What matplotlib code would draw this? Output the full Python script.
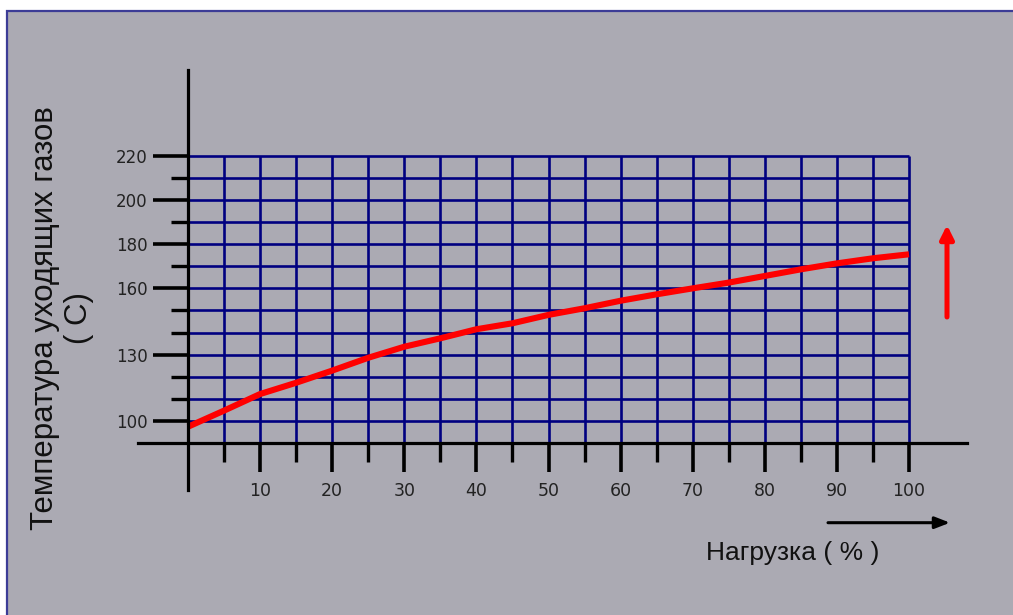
import numpy as np
import matplotlib.pyplot as plt
from matplotlib.patches import Rectangle

# load (%) and flue gas temperature
load = [0, 5, 10, 15, 20, 25, 30, 35, 40, 45, 50, 55, 60, 65, 70, 75, 80, 85, 90, 95, 100]
temp = [97.4, 104.7, 112.2, 117.3, 122.8, 128.6, 133.6, 137.4, 141.5, 144.2, 148.0,
        151.0, 154.4, 157.3, 160.0, 162.6, 165.6, 168.6, 171.3, 173.6, 175.4]

x_major = [10, 20, 30, 40, 50, 60, 70, 80, 90, 100]
x_minor = [5, 15, 25, 35, 45, 55, 65, 75, 85, 95]
y_major = [100, 130, 160, 180, 200, 220]
y_minor = [110, 120, 140, 150, 170, 190, 210]
grid_x = list(range(5, 105, 5))
grid_y = list(range(100, 230, 10))

W, H = 1013, 615
BG = "#abaab3"
NAVY = "#000080"

fig = plt.figure(figsize=(W / 100, H / 100), dpi=100, facecolor="white")

# grey panel with a thin blue frame (kept behind the axes)
fig.patches.append(Rectangle((7 / W, -0.01), 1.02 - 7 / W, 1 - 11 / H + 0.01,
                             transform=fig.transFigure, facecolor=BG,
                             edgecolor="#3c3c96", linewidth=1.6, zorder=-10))

ax = fig.add_axes([188 / W, 1 - 421 / H, (909 - 188) / W, (421 - 155.7) / H])
ax.set_facecolor("none")
ax.set_xlim(0, 100)
ax.set_ylim(100, 220)

# grid
ax.vlines(grid_x, 90, 220, colors=NAVY, linewidth=1.9, clip_on=False, zorder=1)
ax.hlines(grid_y, 0, 100, colors=NAVY, linewidth=1.9, clip_on=False, zorder=1)

# curve
ax.plot(load, temp, color="#ff0000", linewidth=4.4, solid_capstyle="butt",
        solid_joinstyle="round", clip_on=False, zorder=4)

# axes as crossing lines
for s in ["top", "right"]:
    ax.spines[s].set_visible(False)
ax.spines["left"].set_position(("data", 0))
ax.spines["left"].set_bounds(68.8, 258.7)
ax.spines["bottom"].set_position(("data", 90))
ax.spines["bottom"].set_bounds(-6.9, 108)
for s in ["left", "bottom"]:
    ax.spines[s].set_linewidth(2.3)
    ax.spines[s].set_color("black")
    ax.spines[s].set_zorder(5)

ax.set_xticks(x_major)
ax.set_xticks(x_minor, minor=True)
ax.set_yticks(y_major)
ax.set_yticks(y_minor, minor=True)
ax.set_xticklabels([str(v) for v in x_major], fontsize=12.5, color="#222222",
                   family="DejaVu Sans")
ax.set_yticklabels([str(v) for v in y_major], fontsize=12, color="#222222",
                   family="DejaVu Sans")
ax.tick_params(axis="x", which="major", direction="out", length=21, width=2.6,
               pad=7, color="black")
ax.tick_params(axis="x", which="minor", direction="out", length=14, width=2.4,
               color="black")
ax.tick_params(axis="y", which="major", direction="out", length=25, width=2.6,
               pad=4, color="black")
ax.tick_params(axis="y", which="minor", direction="out", length=12, width=2.4,
               color="black")

# labels
fig.text(62 / W, 1 - 318 / H, "Температура уходящих газов\n( С)", rotation=90,
         ha="center", va="center", multialignment="center", fontsize=22.5,
         family="Liberation Sans", color="#111111", linespacing=1.15)
fig.text(793 / W, 1 - 553 / H, "Нагрузка ( % )", ha="center", va="center",
         fontsize=19, family="Liberation Sans", color="#111111")

# direction arrows
ax.annotate("", xy=(950, H - 522.7), xytext=(828, H - 522.7),
            xycoords="figure pixels", textcoords="figure pixels",
            arrowprops=dict(arrowstyle="-|>,head_length=0.9,head_width=0.35",
                            color="black", linewidth=2.2, shrinkA=0, shrinkB=0))
ax.annotate("", xy=(947, H - 225), xytext=(947, H - 317),
            xycoords="figure pixels", textcoords="figure pixels",
            arrowprops=dict(arrowstyle="-|>,head_length=0.8,head_width=0.4",
                            color="#ff0000", linewidth=3.6, shrinkA=0, shrinkB=0))

fig.savefig("out.png", dpi=100, facecolor="white")
